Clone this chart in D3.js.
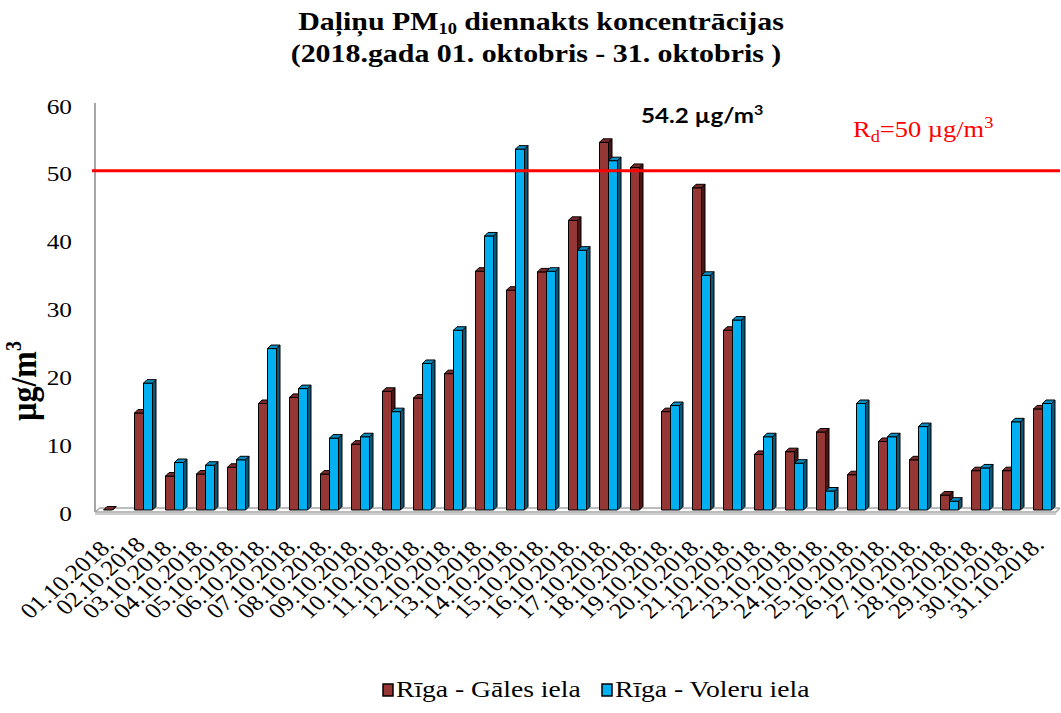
<!DOCTYPE html>
<html>
<head>
<meta charset="utf-8">
<script src="https://cdn.jsdelivr.net/npm/d3@7"></script>
<style>
  body { margin: 0; background: #fff; }
  svg { display: block; }
</style>
</head>
<body>
<script>
// data
const days = d3.range(1, 32).map(d => String(d).padStart(2, '0'));
const dayLabels = days.map(d => d === '02' ? `${d}.10.2018` : `${d}.10.2018.`);
const gales = [0, 14.3, 5.0, 5.3, 6.3, 15.7, 16.6, 5.3, 9.7, 17.5, 16.5, 20.1, 35.2, 32.4, 35.1, 42.7,
  54.2, 50.5, 14.5, 47.5, 26.5, 8.2, 8.6, 11.5, 5.2, 10.1, 7.4, 2.2, 5.8, 5.8, 14.9];
const voleru = [null, 18.7, 7.0, 6.6, 7.4, 23.8, 17.9, 10.6, 10.8, 14.5, 21.6, 26.5, 40.4, 53.2, 35.2, 38.3,
  51.5, null, 15.4, 34.6, 28.0, 10.8, 6.9, 2.8, 15.7, 10.8, 12.3, 1.3, 6.2, 13.0, 15.7];
const yTicks = [0, 10, 20, 30, 40, 50, 60];
const limit = 50;
const seriesNames = ['Rīga - Gāles iela', 'Rīga - Voleru iela'];

const W = 1061, H = 713;
const SX = 1.15; // text in the original is a bit wider than it is tall
const SERIF = '"Liberation Serif", "Times New Roman", Times, serif';
const svg = d3.select('body').append('svg').attr('width', W).attr('height', H);

const x = d3.scaleBand().domain(days).range([99, 1060]);
const y = d3.scaleLinear().domain([0, 60]).range([510, 103]);

const cfg = {
  bar: 9, depth: 3.5,
  series: [
    {values: gales, front: '#953735', top: '#7a2a28', side: '#4a1615', off: -11},
    {values: voleru, front: '#00b0f0', top: '#0a8cc0', side: '#0b5674', off: -2}
  ]
};

function wideText(px, py, extra) {
  return svg.append('text')
    .attr('transform', `translate(${px},${py}) scale(${SX},1)` + (extra || ''));
}

// title
const title = wideText(541, 30).attr('font-family', SERIF)
  .attr('text-anchor', 'middle')
  .attr('font-weight', 'bold').attr('font-size', 26);
title.append('tspan').text('Daļiņu PM');
title.append('tspan').attr('font-size', 16).attr('dy', 4).text('10');
title.append('tspan').attr('dy', -4).text(' diennakts koncentrācijas');
wideText(536, 62).attr('font-family', SERIF)
  .attr('text-anchor', 'middle')
  .attr('font-weight', 'bold').attr('font-size', 26)
  .text('(2018.gada 01. oktobris - 31. oktobris )');

// axis wall + floor
svg.append('line')
  .attr('x1', 95).attr('x2', 95).attr('y1', y(60)).attr('y2', y(0) + 2)
  .attr('stroke', '#a6a6a6').attr('stroke-width', 2);
svg.append('path')
  .attr('d', `M95,${y(0) + 2}L100,${y(0) - 2}H1060M95,${y(0) + 2}H1056L1060,${y(0) - 2}`)
  .attr('fill', 'none').attr('stroke', '#a6a6a6').attr('stroke-width', 1.5);
svg.append('line')
  .attr('x1', 95).attr('x2', 1056).attr('y1', y(0) + 4).attr('y2', y(0) + 4)
  .attr('stroke', '#bdbdbd').attr('stroke-width', 1.5);

// y axis labels
const yAxis = svg.append('g')
  .attr('transform', 'translate(72,3)')
  .call(d3.axisLeft(y).tickValues(yTicks).tickSize(0).tickPadding(0))
  .attr('font-family', SERIF);
yAxis.select('.domain').remove();
yAxis.selectAll('text')
  .attr('font-family', SERIF)
  .attr('font-size', 22)
  .attr('fill', '#000')
  .attr('transform', `scale(${SX},1)`);

const yt = svg.append('text')
  .attr('transform', `translate(36,381) scale(${SX},1) rotate(-90)`)
  .attr('font-family', SERIF)
  .attr('text-anchor', 'middle')
  .attr('font-weight', 'bold').attr('font-size', 32);
yt.append('tspan').text('µg/m');
yt.append('tspan').attr('font-size', 20).attr('dy', -13).text('3');

// 3d bars
const d = cfg.depth, w = cfg.bar;
cfg.series.forEach(s => {
  const g = svg.append('g');
  const data = days.map((day, i) => ({day, v: s.values[i]})).filter(p => p.v !== null);
  const bars = g.selectAll('g').data(data).join('g')
    .attr('stroke', '#000').attr('stroke-width', 1).attr('stroke-linejoin', 'round');
  const bx = p => x(p.day) + x.bandwidth() / 2 + s.off;
  bars.append('path')
    .attr('fill', s.side)
    .attr('d', p => `M${bx(p) + w},${y(p.v)}l${d},${-d}V${y(0) - d}l${-d},${d}Z`);
  bars.append('rect')
    .attr('fill', s.front)
    .attr('x', bx).attr('width', w)
    .attr('y', p => y(p.v)).attr('height', p => y(0) - y(p.v));
  bars.append('path')
    .attr('fill', s.top)
    .attr('d', p => `M${bx(p)},${y(p.v)}l${d},${-d}h${w}l${-d},${d}Z`);
});

// limit line
svg.append('line')
  .attr('x1', 92).attr('x2', 1060).attr('y1', y(limit)).attr('y2', y(limit))
  .attr('stroke', '#ff0000').attr('stroke-width', 3);

const lt = wideText(853, 137).attr('font-family', SERIF)
  .attr('fill', '#ff0000').attr('font-size', 23);
lt.append('tspan').text('R');
lt.append('tspan').attr('font-size', 16).attr('dy', 5).text('d');
lt.append('tspan').attr('dy', -5).text(`=${limit} µg/m`);
lt.append('tspan').attr('font-size', 16).attr('dy', -9).text('3');

const mt = wideText(641, 123)
  .attr('font-family', 'Lato, "Open Sans", sans-serif')
  .attr('font-weight', 'bold').attr('font-size', 21);
mt.append('tspan').text(`${d3.max(gales)} µg/m`);
mt.append('tspan').attr('font-size', 14).attr('dy', -8).text('3');

// x labels
svg.append('g').selectAll('text').data(days).join('text')
  .attr('transform', day => `translate(${x(day) + x.bandwidth() / 2 + 1},546) scale(${SX},1) rotate(-45)`)
  .attr('font-family', SERIF)
  .attr('text-anchor', 'end')
  .attr('font-size', 22)
  .text((day, i) => dayLabels[i]);

// legend
const legend = svg.append('g').attr('transform', 'translate(383,684)');
seriesNames.forEach((name, i) => {
  const item = legend.append('g').attr('transform', `translate(${i * 219},0)`);
  item.append('rect').attr('width', 10).attr('height', 12)
    .attr('fill', cfg.series[i].front).attr('stroke', '#000').attr('stroke-width', 1.5);
  item.append('text')
    .attr('transform', `translate(13,13) scale(${SX},1)`)
    .attr('font-family', SERIF)
    .attr('font-size', 24)
    .text(name);
});
</script>
</body>
</html>
